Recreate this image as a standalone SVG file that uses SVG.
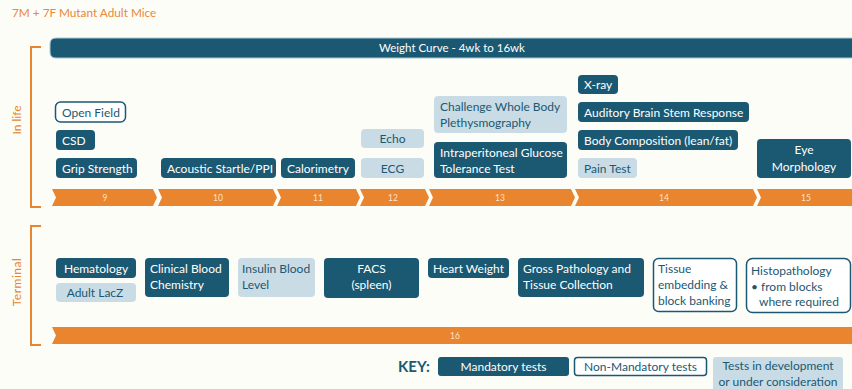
<svg xmlns="http://www.w3.org/2000/svg" width="852" height="389" viewBox="0 0 852 389">
<defs>
<style>
text{font-family:Lato,"Open Sans","Liberation Sans",sans-serif;}
.dk{fill:#1B5872;}
.lt{fill:#C9DCE5;}
.wh{fill:#FFFFFF;stroke:#1B5872;stroke-width:1.5;}
.tw{fill:#FFFFFF;font-size:12px;}
.tt{fill:#1B5872;font-size:12px;}
.or{fill:#E9842F;}
.sl{fill:#FBE3CC;font-size:8.5px;text-anchor:middle;}
.br{fill:none;stroke:#E9842F;stroke-width:2;}
.c{text-anchor:middle;}
</style>
</defs>
<rect x="0" y="0" width="852" height="389" fill="#FDFDF8"/>
<text x="12" y="17" fill="#E9873A" font-size="11.8">7M + 7F Mutant Adult Mice</text>

<g id="brackets">
<path class="br" d="M41,47 H31 V207 H41"/>
<path class="br" d="M41,226 H31 V345 H41"/>
<text transform="translate(21,120) rotate(-90)" class="c" fill="#E9842F" font-size="12">In life</text>
<text transform="translate(21,282) rotate(-90)" class="c" fill="#E9842F" font-size="12" letter-spacing="0.5">Terminal</text>
</g>

<g id="weight-curve">
<path d="M56,38 H853 V58 H56 Q50,58 50,52 V44 Q50,38 56,38 Z" fill="#1B5872" stroke="#A9C8D6" stroke-width="1"/>
<text x="452" y="52" class="c" fill="#FFFFFF" font-size="11.5">Weight Curve - 4wk to 16wk</text>
</g>

<g id="timeline-inlife">
<polygon class="or" points="52,189 153,189 157,197.5 153,206 52,206 56,197.5"/>
<polygon class="or" points="158,189 273,189 277,197.5 273,206 158,206 162,197.5"/>
<polygon class="or" points="277,189 356,189 360,197.5 356,206 277,206 281,197.5"/>
<polygon class="or" points="360,189 425,189 429,197.5 425,206 360,206 364,197.5"/>
<polygon class="or" points="429,189 571,189 575,197.5 571,206 429,206 433,197.5"/>
<polygon class="or" points="575,189 753,189 757,197.5 753,206 575,206 579,197.5"/>
<polygon class="or" points="757,189 852,189 852,206 757,206 761,197.5"/>
<text x="105" y="200.5" class="sl">9</text>
<text x="218" y="200.5" class="sl">10</text>
<text x="318" y="200.5" class="sl">11</text>
<text x="393" y="200.5" class="sl">12</text>
<text x="500" y="200.5" class="sl">13</text>
<text x="664" y="200.5" class="sl">14</text>
<text x="806" y="200.5" class="sl">15</text>
</g>

<g id="timeline-terminal">
<polygon class="or" points="52,327 852,327 852,344 52,344 56,335.5"/>
<text x="455" y="338.5" class="sl">16</text>
</g>

<g id="open-field"><rect class="wh" x="55.5" y="102" width="70" height="20" rx="5"/><text x="62" y="116.5" class="tt">Open Field</text></g>
<g id="csd"><rect class="dk" x="56" y="130" width="39" height="20" rx="4"/><text x="62" y="144.5" class="tw">CSD</text></g>
<g id="grip-strength"><rect class="dk" x="56" y="158" width="81" height="20" rx="4"/><text x="62" y="172.5" class="tw">Grip Strength</text></g>
<g id="acoustic-startle"><rect class="dk" x="161" y="158" width="115" height="20" rx="4"/><text x="167" y="172.5" class="tw">Acoustic Startle/PPI</text></g>
<g id="calorimetry"><rect class="dk" x="281" y="158" width="74" height="20" rx="4"/><text x="287" y="172.5" class="tw">Calorimetry</text></g>
<g id="echo"><rect class="lt" x="361" y="129" width="63" height="19" rx="4"/><text x="392.5" y="143" class="tt c">Echo</text></g>
<g id="ecg"><rect class="lt" x="361" y="158" width="63" height="20" rx="4"/><text x="392.5" y="172.5" class="tt c">ECG</text></g>
<g id="plethysmography"><rect class="lt" x="434" y="96" width="133" height="37" rx="4"/><text x="440" y="111" class="tt">Challenge Whole Body</text><text x="440" y="127" class="tt">Plethysmography</text></g>
<g id="ipgtt"><rect class="dk" x="434" y="142" width="133" height="36" rx="4"/><text x="440" y="156.5" class="tw">Intraperitoneal Glucose</text><text x="440" y="172.5" class="tw">Tolerance Test</text></g>
<g id="x-ray"><rect class="dk" x="578" y="75" width="40" height="19" rx="4"/><text x="584" y="89" class="tw">X-ray</text></g>
<g id="abr"><rect class="dk" x="578" y="102" width="171" height="20" rx="4"/><text x="584" y="116.5" class="tw">Auditory Brain Stem Response</text></g>
<g id="body-composition"><rect class="dk" x="578" y="130" width="160" height="20" rx="4"/><text x="584" y="144.5" class="tw">Body Composition (lean/fat)</text></g>
<g id="pain-test"><rect class="lt" x="578" y="158" width="59" height="20" rx="4"/><text x="584" y="172.5" class="tt">Pain Test</text></g>
<g id="eye-morphology"><rect class="dk" x="757" y="139" width="94" height="39" rx="4"/><text x="804" y="154" class="tw c">Eye</text><text x="804" y="170.5" class="tw c">Morphology</text></g>

<g id="hematology"><rect class="dk" x="56" y="258" width="80" height="20" rx="4"/><text x="96" y="272.5" class="tw c">Hematology</text></g>
<g id="adult-lacz"><rect class="lt" x="56" y="283" width="80" height="19" rx="4"/><text x="95" y="297" class="tt c">Adult LacZ</text></g>
<g id="clinical-blood-chemistry"><rect class="dk" x="145" y="258" width="84" height="39" rx="4"/><text x="150" y="273" class="tw">Clinical Blood</text><text x="150" y="289" class="tw">Chemistry</text></g>
<g id="insulin-blood-level"><rect class="lt" x="238" y="258" width="77" height="39" rx="4"/><text x="242" y="273" class="tt">Insulin Blood</text><text x="242" y="289" class="tt">Level</text></g>
<g id="facs"><rect class="dk" x="324" y="258" width="95" height="40" rx="4"/><text x="371.5" y="273" class="tw c">FACS</text><text x="371.5" y="289" class="tw c">(spleen)</text></g>
<g id="heart-weight"><rect class="dk" x="428" y="258" width="81" height="20" rx="4"/><text x="433" y="272.5" class="tw">Heart Weight</text></g>
<g id="gross-pathology"><rect class="dk" x="518" y="258" width="126" height="39" rx="4"/><text x="523" y="273" class="tw">Gross Pathology and</text><text x="523" y="289" class="tw">Tissue Collection</text></g>
<g id="tissue-embedding"><rect class="wh" x="653.5" y="258.5" width="83" height="53" rx="5"/><text x="658" y="273" class="tt">Tissue</text><text x="658" y="289" class="tt">embedding &amp;</text><text x="658" y="305" class="tt">block banking</text></g>
<g id="histopathology"><rect class="wh" x="746.5" y="258.5" width="104" height="54" rx="6"/><text x="751" y="274.5" class="tt">Histopathology</text><text x="751" y="290.5" class="tt">• from blocks</text><text x="759" y="305.5" class="tt">where required</text></g>

<g id="key">
<text x="398" y="372" fill="#1B5872" font-size="15" font-weight="bold">KEY:</text>
<rect class="dk" x="438" y="357" width="131" height="19" rx="3"/>
<text x="503.5" y="370.5" class="c" fill="#FFFFFF" font-size="12">Mandatory tests</text>
<rect class="wh" x="574.5" y="357.5" width="132" height="18" rx="3"/>
<text x="640.5" y="370.5" class="c" fill="#1B5872" font-size="12">Non-Mandatory tests</text>
<rect class="lt" x="713" y="357" width="130" height="36" rx="3"/>
<text x="778" y="370" class="c" fill="#1B5872" font-size="12">Tests in development</text>
<text x="778" y="386" class="c" fill="#1B5872" font-size="12">or under consideration</text>
</g>
</svg>
